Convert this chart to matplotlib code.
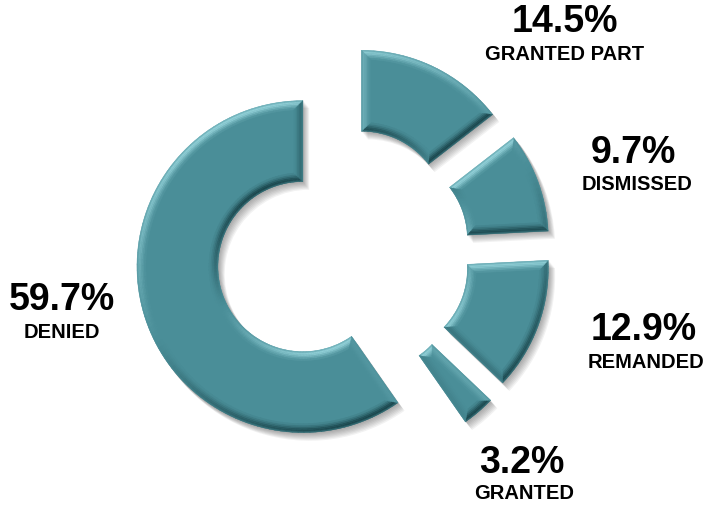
import numpy as np
import matplotlib.pyplot as plt
from matplotlib.patches import Wedge
from matplotlib.collections import PolyCollection
from matplotlib.colors import to_rgb

# share of decisions by outcome, clockwise from 12 o'clock
outcomes = ['GRANTED PART', 'DISMISSED', 'REMANDED', 'GRANTED', 'DENIED']
shares = [14.5, 9.7, 12.9, 3.2, 59.7]

BASE = np.array(to_rgb('#4a8e98'))
LIGHT = np.array(to_rgb('#9ad8df'))
DARK = np.array(to_rgb('#163f45'))
LIGHT_DIR = np.array([-0.45, 0.89])
LIGHT_DIR = LIGHT_DIR / np.linalg.norm(LIGHT_DIR)

W, H = 709, 506
fig = plt.figure(figsize=(W / 100, H / 100), dpi=100)
ax = fig.add_axes([0, 0, 1, 1])

# explode is in data units here (pixels)
wedges, _ = ax.pie(shares, radius=166, center=(343, 251), startangle=90,
                   counterclock=False, explode=[42] * len(shares),
                   wedgeprops=dict(width=81, facecolor=BASE, linewidth=0))


def shade(normal, k):
    d = float(np.dot(normal, LIGHT_DIR)) * k
    if d >= 0:
        return BASE + (LIGHT - BASE) * min(d, 1)
    return BASE + (DARK - BASE) * min(-d, 1)


def pt(c, rad, ang):
    return (c[0] + rad * np.cos(ang), c[1] + rad * np.sin(ang))


def arcs(w, t, n):
    # inset outline of an annular sector: offsets both arcs and both radial edges by t
    c = w.center
    R = w.r
    r = w.r - w.width
    t1, t2 = np.radians(w.theta1), np.radians(w.theta2)
    ao = np.arcsin(t / (R - t))
    ai = np.arcsin(t / (r + t))
    outer = [pt(c, R - t, a) for a in np.linspace(t1 + ao, t2 - ao, n)]
    inner = [pt(c, r + t, a) for a in np.linspace(t1 + ai, t2 - ai, n)]
    mids = np.linspace(t1, t2, n)
    return outer, inner, mids


def bevel(w, size=9, bands=6):
    polys, cols = [], []
    t1, t2 = np.radians(w.theta1), np.radians(w.theta2)
    n = max(int((w.theta2 - w.theta1) / 2), 6)
    steps = np.linspace(0, size, bands + 1)
    # rounded profile: steep at the rim, flattening toward the top face
    profile = [0.55, 0.9, 0.8, 0.55, 0.32, 0.12]
    for k in range(bands):
        strength = profile[k]
        o0, i0, mids = arcs(w, steps[k], n)
        o1, i1, _ = arcs(w, steps[k + 1], n)
        for j in range(n - 1):
            am = 0.5 * (mids[j] + mids[j + 1])
            nrm = np.array([np.cos(am), np.sin(am)])
            polys.append([o0[j], o0[j + 1], o1[j + 1], o1[j]])
            cols.append(shade(nrm, strength))
            polys.append([i0[j], i0[j + 1], i1[j + 1], i1[j]])
            cols.append(shade(-nrm, strength))
        # radial cut faces
        polys.append([i0[0], o0[0], o1[0], i1[0]])
        cols.append(shade(np.array([np.sin(t1), -np.cos(t1)]), strength))
        polys.append([i0[-1], o0[-1], o1[-1], i1[-1]])
        cols.append(shade(np.array([-np.sin(t2), np.cos(t2)]), strength))
    pc = PolyCollection(polys, facecolors=cols, edgecolors=cols,
                        linewidths=0.3, zorder=3)
    ax.add_collection(pc)


for w in wedges:
    w.set_zorder(2)
    # soft drop shadow toward the lower right
    for k in range(1, 8):
        sh = Wedge((w.center[0] + 0.9 * k, w.center[1] - 1.1 * k), w.r + 0.5,
                   w.theta1, w.theta2, width=w.width + 1, facecolor='black',
                   alpha=0.05, linewidth=0, zorder=1)
        ax.add_patch(sh)
    bevel(w)

# label positions in pixels from the top-left corner
label_pos = {
    'GRANTED PART': ((565, 22), (565, 54)),
    'DISMISSED': ((633, 153), (637, 184)),
    'REMANDED': ((644, 330), (646, 362)),
    'GRANTED': ((522, 463), (524, 494)),
    'DENIED': ((62, 300), (62, 332)),
}
for name, val in zip(outcomes, shares):
    (px, py), (nx, ny) = label_pos[name]
    ax.text(px, H - py, f'{val:.1f}%', ha='center', va='center',
            fontsize=27, fontweight='bold', family='Liberation Sans')
    ax.text(nx, H - ny, name, ha='center', va='center',
            fontsize=14.5, fontweight='bold', family='Liberation Sans')

ax.set_xlim(0, W)
ax.set_ylim(0, H)
ax.set_aspect('equal')
ax.axis('off')
fig.savefig('out.png', dpi=100, facecolor='white')
